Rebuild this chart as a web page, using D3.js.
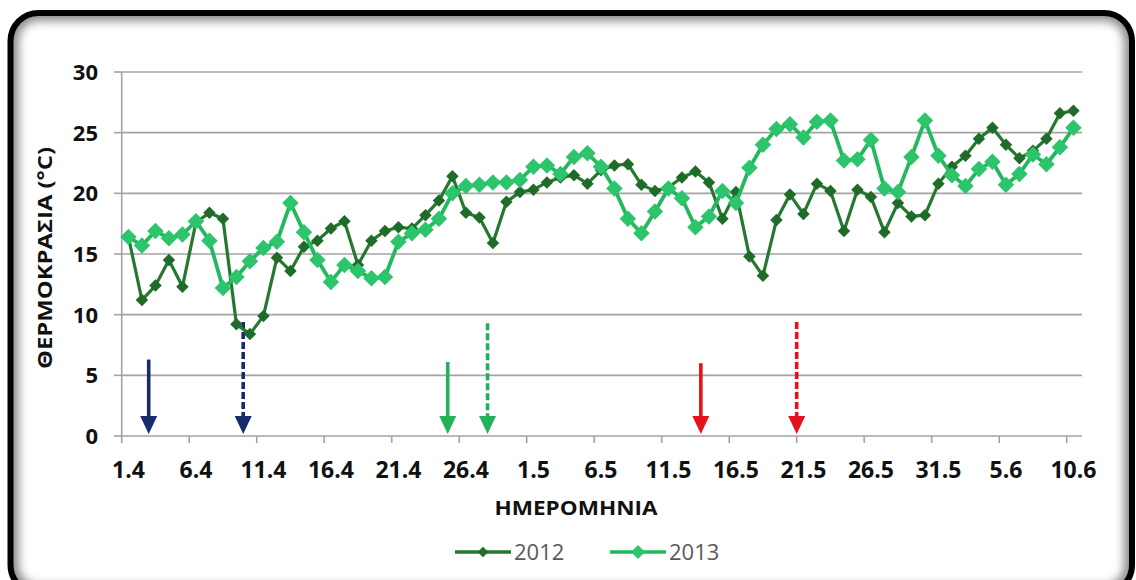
<!DOCTYPE html>
<html>
<head>
<meta charset="utf-8">
<script src="https://cdn.jsdelivr.net/npm/d3@7"></script>
<style>
  body { margin:0; background:#fff; }
  text { font-family: "Open Sans", "Noto Sans", sans-serif; }
</style>
</head>
<body>
<div id="chart"></div>
<script>
// Categories: daily dates 1.4 .. 10.6
var days = ["1.4","2.4","3.4","4.4","5.4","6.4","7.4","8.4","9.4","10.4",
  "11.4","12.4","13.4","14.4","15.4","16.4","17.4","18.4","19.4","20.4",
  "21.4","22.4","23.4","24.4","25.4","26.4","27.4","28.4","29.4","30.4",
  "1.5","2.5","3.5","4.5","5.5","6.5","7.5","8.5","9.5","10.5",
  "11.5","12.5","13.5","14.5","15.5","16.5","17.5","18.5","19.5","20.5",
  "21.5","22.5","23.5","24.5","25.5","26.5","27.5","28.5","29.5","30.5",
  "31.5","1.6","2.6","3.6","4.6","5.6","6.6","7.6","8.6","9.6","10.6"];

// labelled every 5 days
var tickLabels = ["1.4","6.4","11.4","16.4","21.4","26.4","1.5","6.5","11.5","16.5","21.5","26.5","31.5","5.6","10.6"];

var t2012 = [16.4,11.2,12.4,14.5,12.3,17.6,18.4,17.9,9.2,8.4,
  9.9,14.7,13.6,15.6,16.1,17.1,17.7,14.1,16.1,16.9,
  17.2,17.1,18.2,19.4,21.4,18.4,18.0,15.9,19.3,20.1,
  20.3,20.9,21.3,21.5,20.8,21.9,22.3,22.4,20.7,20.2,
  20.5,21.3,21.8,20.9,17.9,20.1,14.8,13.2,17.8,19.9,
  18.3,20.8,20.2,16.9,20.3,19.7,16.8,19.2,18.1,18.2,
  20.8,22.2,23.1,24.5,25.4,24.0,22.9,23.5,24.5,26.6,26.8];

var t2013 = [16.4,15.7,16.9,16.3,16.6,17.7,16.1,12.2,13.1,14.4,
  15.5,16.0,19.2,16.8,14.5,12.7,14.1,13.6,13.0,13.1,
  16.0,16.7,17.0,17.9,20.0,20.6,20.7,20.9,20.9,21.1,
  22.2,22.3,21.6,23.0,23.3,22.2,20.4,17.9,16.7,18.5,
  20.4,19.6,17.2,18.1,20.2,19.2,22.1,24.0,25.3,25.7,
  24.6,25.9,26.0,22.7,22.8,24.4,20.4,20.1,23.0,26.0,
  23.1,21.5,20.6,22.0,22.6,20.7,21.6,23.2,22.4,23.8,25.4];

var yTicks = [0,5,10,15,20,25,30];

// annotation arrows: day position (fractional category index), top in °C
var arrowDay = [1.5, 8.5, 23.65, 26.6, 42.4, 49.5];
var arrowTop = [6.3, 9.4, 6.1, 9.3, 6.0, 9.4];
var arrowColor = ["#172d6b","#172d6b","#22b257","#22b257","#e3121b","#e3121b"];
var arrowDashed = [false, true, false, true, false, true];

var W = 1136, H = 580;
var svg = d3.select("#chart").append("svg")
  .attr("width", W).attr("height", H);

// frame with inner shadow
var defs = svg.append("defs");
defs.append("filter").attr("id","blur")
  .append("feGaussianBlur").attr("stdDeviation", 5);
defs.append("clipPath").attr("id","inside")
  .append("rect").attr("x",10.5).attr("y",13).attr("width",1121.5).attr("height",580).attr("rx",28);

svg.append("rect")
  .attr("x",10.5).attr("y",13).attr("width",1121.5).attr("height",580).attr("rx",28)
  .attr("fill","#fff");
svg.append("g").attr("clip-path","url(#inside)")
  .append("rect")
  .attr("x",10.5).attr("y",13).attr("width",1121.5).attr("height",580).attr("rx",28)
  .attr("fill","none").attr("stroke","#8a8a8a").attr("stroke-width",16)
  .attr("filter","url(#blur)");
svg.append("rect")
  .attr("x",10.5).attr("y",13).attr("width",1121.5).attr("height",580).attr("rx",28)
  .attr("fill","none").attr("stroke","#000").attr("stroke-width",6);

// scales
var x = d3.scaleBand().domain(days).range([121.7, 1080.2]).padding(0);
var y = d3.scaleLinear().domain([0,30]).range([436, 72]);
var cx = function(d){ return x(d) + x.bandwidth()/2; };

var g = svg.append("g");

// gridlines
g.selectAll(".grid").data(yTicks).enter().append("line")
  .attr("x1", 121.7).attr("x2", 1082)
  .attr("y1", function(d){ return y(d); }).attr("y2", function(d){ return y(d); })
  .attr("stroke", "#a3a3a3").attr("stroke-width", 1.6);

// y axis
g.append("line").attr("x1",121.7).attr("x2",121.7).attr("y1",y(30)).attr("y2",y(0))
  .attr("stroke","#a3a3a3").attr("stroke-width",1.6);
g.selectAll(".ytick").data(yTicks).enter().append("line")
  .attr("x1",114).attr("x2",121.7)
  .attr("y1", function(d){ return y(d); }).attr("y2", function(d){ return y(d); })
  .attr("stroke","#a3a3a3").attr("stroke-width",1.6);
g.selectAll(".ylab").data(yTicks).enter().append("text")
  .attr("x", 98).attr("y", function(d){ return y(d) + 8; })
  .attr("text-anchor","end")
  .attr("font-size", 22).attr("font-weight", "bold").attr("fill","#111")
  .text(function(d){ return d; });

// x axis ticks at boundaries every 5 days
g.selectAll(".xtick").data(tickLabels).enter().append("line")
  .attr("x1", function(d){ return x(d); }).attr("x2", function(d){ return x(d); })
  .attr("y1", 436).attr("y2", 443)
  .attr("stroke","#a3a3a3").attr("stroke-width",1.6);
g.selectAll(".xlab").data(tickLabels).enter().append("text")
  .attr("x", function(d){ return cx(d); }).attr("y", 478)
  .attr("text-anchor","middle")
  .attr("font-size", 23).attr("font-weight","bold").attr("fill","#111")
  .text(function(d){ return d; });

// axis titles
svg.append("text")
  .attr("x", 576).attr("y", 515)
  .attr("text-anchor","middle")
  .attr("font-size", 19).attr("font-weight","bold").attr("fill","#111")
  .attr("textLength", 163).attr("lengthAdjust","spacingAndGlyphs")
  .text("ΗΜΕΡΟΜΗΝΙΑ");
svg.append("text")
  .attr("transform","translate(52,258) rotate(-90)")
  .attr("text-anchor","middle")
  .attr("font-size", 19).attr("font-weight","bold").attr("fill","#111")
  .attr("textLength", 222).attr("lengthAdjust","spacingAndGlyphs")
  .text("ΘΕΡΜΟΚΡΑΣΙΑ  (°C)");

// arrows
var arrows = arrowDay.map(function(d,i){
  return {day:d, top:arrowTop[i], color:arrowColor[i], dashed:arrowDashed[i]};
});
var xi = d3.scaleLinear().domain([0, days.length]).range([121.7, 1080.2]);
var ag = g.selectAll(".arrow").data(arrows).enter().append("g");
ag.append("line")
  .attr("x1", function(d){ return xi(d.day + 0.5); })
  .attr("x2", function(d){ return xi(d.day + 0.5); })
  .attr("y1", function(d){ return y(d.top); })
  .attr("y2", 420)
  .attr("stroke", function(d){ return d.color; })
  .attr("stroke-width", 3.6)
  .attr("stroke-dasharray", function(d){ return d.dashed ? "7,3" : null; });
ag.append("path")
  .attr("d", function(d){
    var ax = xi(d.day + 0.5);
    return "M" + (ax-8.5) + ",416 L" + (ax+8.5) + ",416 L" + ax + ",434 Z";
  })
  .attr("fill", function(d){ return d.color; });

// series
var series = [
  {name:"2012", values:t2012, line:"#24782f", marker:"#1f6b29", lw:3.2, ms:12.5},
  {name:"2013", values:t2013, line:"#22b85e", marker:"#2cc56c", lw:3.8, ms:16.5}
];
var line = d3.line()
  .x(function(d,i){ return cx(days[i]); })
  .y(function(d){ return y(d); });
var diamond = function(s){ return "M0," + (-s/2) + " L" + (s/2) + ",0 L0," + (s/2) + " L" + (-s/2) + ",0 Z"; };

series.forEach(function(s){
  g.append("path").datum(s.values)
    .attr("d", line)
    .attr("fill","none")
    .attr("stroke", s.line).attr("stroke-width", s.lw)
    .attr("stroke-linejoin","round");
  g.selectAll(".m" + s.name).data(s.values).enter().append("path")
    .attr("transform", function(d,i){ return "translate(" + cx(days[i]) + "," + y(d) + ")"; })
    .attr("d", diamond(s.ms))
    .attr("fill", s.marker);
});

// legend
var legX = [455, 610];
var lg = svg.selectAll(".leg").data(series).enter().append("g")
  .attr("transform", function(d,i){ return "translate(" + legX[i] + ",552)"; });
lg.append("line").attr("x1",0).attr("x2",56).attr("y1",0).attr("y2",0)
  .attr("stroke", function(d){ return d.line; }).attr("stroke-width", 3.6);
lg.append("path").attr("transform","translate(28,0)")
  .attr("d", function(d){ return diamond(d.ms * 0.85); })
  .attr("fill", function(d){ return d.marker; });
lg.append("text").attr("x", 59).attr("y", 8)
  .attr("font-size", 22).attr("fill","#595959")
  .text(function(d){ return d.name; });
</script>
</body>
</html>
